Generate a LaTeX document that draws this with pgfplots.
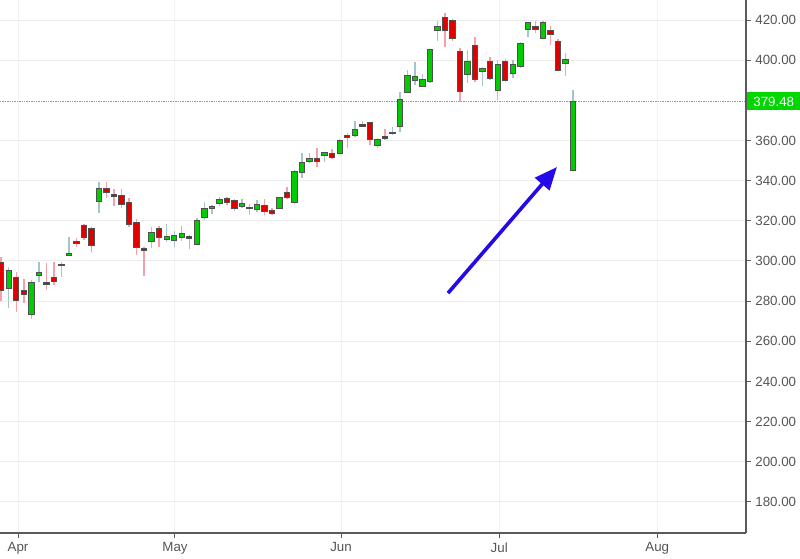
\documentclass[border=0pt]{standalone}
\usepackage{fontspec}
\setmainfont{Liberation Sans}
\usepackage{pgfplots}
\pgfplotsset{compat=1.18}
\usepackage{pgfplotstable}
\usetikzlibrary{arrows.meta}
\definecolor{bodygreen}{RGB}{0,204,0}
\definecolor{bodyred}{RGB}{224,0,0}
\definecolor{wickgreen}{RGB}{166,196,206}
\definecolor{wickred}{RGB}{245,160,170}
\definecolor{outlinec}{RGB}{80,80,80}
\definecolor{gridc}{RGB}{236,236,236}
\definecolor{vgridc}{RGB}{242,242,242}
\definecolor{axisc}{RGB}{90,90,90}
\definecolor{labelc}{RGB}{85,85,85}
\definecolor{arrowc}{RGB}{36,10,232}
\definecolor{pricegreen}{RGB}{0,214,0}

\pgfdeclareplotmark{nothing}{}

\pgfplotstableread{
i open high low close
2 286.5 297 276.5 295.5
5 273.4 290.5 271 289.4
6 292.7 299.3 289.4 294.4
9 297.6 299.3 292.2 298.3
10 302.6 312 302.5 303.8
14 329.5 339.2 323.7 336.2
21 309.6 317.1 306.3 314.3
23 310.8 318.3 309.6 312.4
24 310.3 314.9 307.1 312.9
25 311.6 317.6 309.9 313.6
27 308.3 321.2 308 320
28 321.5 329.5 320.4 326.2
29 326.2 327.9 323.2 327
30 328.4 332 327.5 330.7
33 327 330.9 326.2 328.5
34 325.9 328.2 322.9 326.5
35 325.7 330.4 324.5 327.9
38 326.2 332 325.7 331.7
40 329 345.3 328.4 344.8
41 344 353.9 341.2 349.3
42 349.4 353.6 348.6 351.2
44 352.3 354.4 349.4 353.9
46 353.6 360.6 353.3 359.9
48 362.7 369.9 361.6 365.6
51 357.7 361.1 356.1 360.6
53 363.6 366.9 362.7 364.2
54 367.2 384.3 364.4 380.2
55 384 395.1 383.5 392.6
56 390.1 399.2 387.6 391.8
57 387.1 393.1 386.5 390.6
58 389.3 405.4 388.8 405.1
59 414.7 419.7 409.7 417
63 393.1 405.1 388.5 399.2
65 394.6 396.8 387.1 395.8
67 385.1 400.1 380.2 397.9
69 393.5 400.1 391 398.1
70 397.1 409.2 396 408.4
71 415.4 419.2 411.4 418.7
73 410.9 419.7 410.4 418.7
76 398.4 403.4 392.1 400.4
77 345 385.1 344.8 379.48
}\greencandles

\pgfplotstableread{
i open high low close
1 299 302 280 285.5
3 291.7 294.7 274.7 280.1
4 285.5 291 279 283.4
7 289.4 298.8 285.5 288.4
8 291.7 299.3 288 289.7
11 309.9 311.6 307.1 308.9
12 317.6 318.3 310.4 311.6
13 316.3 317.1 304.6 307.6
15 336.2 339.2 331.2 334.2
16 333.2 335.8 327.5 332.2
17 332.5 335.8 326.2 327.9
18 329.2 331.2 317.1 318.3
19 319.3 320.9 302.9 306.6
20 306.3 307.1 292.7 305
22 316.3 317.4 307.1 311.6
26 312.3 312.9 305.9 311.4
31 331.2 332 327.9 329.2
32 329.9 330.9 324.9 325.9
36 327.4 330.7 322.9 324.5
37 324.9 326.2 322.9 323.7
39 334.2 336.7 330.7 331.5
43 351.2 356.1 347 349.4
45 353.6 355.6 350.6 351.6
47 362.7 363.6 356.1 361.6
49 367.9 369.9 366.6 367.2
50 368.9 369.4 357.7 360.6
52 361.9 365.6 360.2 360.9
60 421.3 423.3 406.4 414.7
61 420 420.3 409.7 410.9
62 404.2 405.9 379.3 384.3
64 407.5 411.4 389.3 390.5
66 399.2 401.4 390.1 391
68 399.2 400.4 389.3 390.1
72 417 419.7 413.4 415.4
74 415 417 407.5 412.9
75 409.2 410.4 394.8 395.1
}\redcandles

\pgfplotsset{
  candle/.style 2 args={
    only marks, mark=nothing, scatter,
    visualization depends on={\thisrow{open} \as \copen},
    visualization depends on={\thisrow{high} \as \chigh},
    visualization depends on={\thisrow{low} \as \clow},
    visualization depends on={\thisrow{close} \as \cclose},
    scatter/@pre marker code/.code={
      \pgfmathsetmacro\dlow{\clow-\cclose}
      \pgfmathsetmacro\dhigh{\chigh-\cclose}
      \pgfmathsetmacro\dopen{\copen-\cclose}
      \draw[#2, line width=1.1pt] (axis direction cs:0,\dlow) -- (axis direction cs:0,\dhigh);
      \filldraw[fill=#1, draw=outlinec, line width=0.75pt] (axis direction cs:-0.36,\dopen) rectangle (axis direction cs:0.36,0);
    },
    scatter/@post marker code/.code={},
  }
}

\begin{document}
\begin{tikzpicture}
\begin{axis}[
  at={(0,0)}, anchor=south west, scale only axis,
  width=559.5pt, height=399.75pt,
  xmin=0.84, xmax=100, ymin=164.5, ymax=430,
  axis x line*=bottom, axis y line*=right,
  axis line style={axisc, line width=1pt},
  xtick={3.24,24.1,46.17,67.2,88.2},
  xticklabels={Apr,May,Jun,Jul,Aug},
  ytick={180,200,220,240,260,280,300,320,340,360,400,420},
  tick align=outside, major tick length=3.5pt,
  tick style={axisc, line width=0.75pt},
  xmajorgrids, ymajorgrids,
  x grid style={vgridc, line width=0.75pt},
  y grid style={gridc, line width=0.75pt},
  /pgf/number format/assume math mode=true,
  yticklabel style={/pgf/number format/fixed, /pgf/number format/fixed zerofill, /pgf/number format/precision=2, text=labelc, font=\fontsize{10}{12}\selectfont},
  xticklabel style={text=labelc, font=\fontsize{10}{12}\selectfont},
]
\draw[draw={rgb,255:red,40;green,225;blue,40}, line width=1pt, dash pattern=on 1pt off 0.8pt] (axis cs:0.84,379.48) -- (axis cs:100,379.48);
\addplot[candle={bodygreen}{wickgreen}] table[x=i, y=close] {\greencandles};
\addplot[candle={bodyred}{wickred}] table[x=i, y=close] {\redcandles};
\draw[arrowc, line width=2.7pt, -{Triangle[length=17pt,width=14pt]}] (axis cs:60.39,284.0) -- (axis cs:74.87,346.8);
\coordinate (pl) at (axis cs:100,379.48);
\end{axis}
\node[fill=pricegreen, text=white, anchor=west, minimum height=13.5pt, minimum width=40pt, inner sep=0pt, font=\fontsize{10}{12}\selectfont] at ([xshift=0.6pt]pl) {379.48};
\pgfresetboundingbox
\path (0,-18.75pt) rectangle (600pt,399.75pt);
\end{tikzpicture}
\end{document}
